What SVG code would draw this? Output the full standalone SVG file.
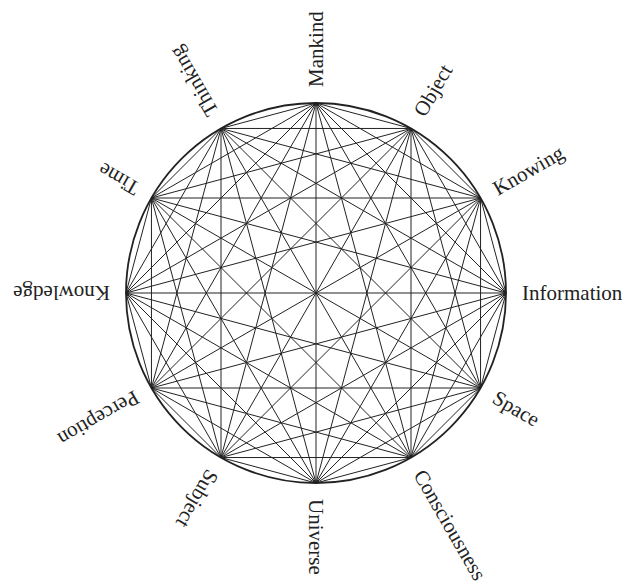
<svg xmlns="http://www.w3.org/2000/svg" width="623" height="584" viewBox="0 0 623 584">
<style>
.c line{stroke:#222;stroke-width:1;fill:none}
.ring{stroke:#222;stroke-width:1.8;fill:none}
.lbl{font-family:"Liberation Serif","Times New Roman",serif;font-size:21px;fill:#222;dominant-baseline:central}
</style>
<rect width="623" height="584" fill="#fff"/>
<circle class="ring" cx="316" cy="293" r="190"/>
<g id="connectors" class="c">
<line x1="506" y1="293" x2="480.55" y2="388"/>
<line x1="506" y1="293" x2="411" y2="457.54"/>
<line x1="506" y1="293" x2="316" y2="483"/>
<line x1="506" y1="293" x2="221" y2="457.54"/>
<line x1="506" y1="293" x2="151.45" y2="388"/>
<line x1="506" y1="293" x2="126" y2="293"/>
<line x1="506" y1="293" x2="151.45" y2="198"/>
<line x1="506" y1="293" x2="221" y2="128.46"/>
<line x1="506" y1="293" x2="316" y2="103"/>
<line x1="506" y1="293" x2="411" y2="128.46"/>
<line x1="506" y1="293" x2="480.55" y2="198"/>
<line x1="480.55" y1="388" x2="411" y2="457.54"/>
<line x1="480.55" y1="388" x2="316" y2="483"/>
<line x1="480.55" y1="388" x2="221" y2="457.54"/>
<line x1="480.55" y1="388" x2="151.45" y2="388"/>
<line x1="480.55" y1="388" x2="126" y2="293"/>
<line x1="480.55" y1="388" x2="151.45" y2="198"/>
<line x1="480.55" y1="388" x2="221" y2="128.46"/>
<line x1="480.55" y1="388" x2="316" y2="103"/>
<line x1="480.55" y1="388" x2="411" y2="128.46"/>
<line x1="480.55" y1="388" x2="480.55" y2="198"/>
<line x1="411" y1="457.54" x2="316" y2="483"/>
<line x1="411" y1="457.54" x2="221" y2="457.54"/>
<line x1="411" y1="457.54" x2="151.45" y2="388"/>
<line x1="411" y1="457.54" x2="126" y2="293"/>
<line x1="411" y1="457.54" x2="151.45" y2="198"/>
<line x1="411" y1="457.54" x2="221" y2="128.46"/>
<line x1="411" y1="457.54" x2="316" y2="103"/>
<line x1="411" y1="457.54" x2="411" y2="128.46"/>
<line x1="411" y1="457.54" x2="480.55" y2="198"/>
<line x1="316" y1="483" x2="221" y2="457.54"/>
<line x1="316" y1="483" x2="151.45" y2="388"/>
<line x1="316" y1="483" x2="126" y2="293"/>
<line x1="316" y1="483" x2="151.45" y2="198"/>
<line x1="316" y1="483" x2="221" y2="128.46"/>
<line x1="316" y1="483" x2="316" y2="103"/>
<line x1="316" y1="483" x2="411" y2="128.46"/>
<line x1="316" y1="483" x2="480.55" y2="198"/>
<line x1="221" y1="457.54" x2="151.45" y2="388"/>
<line x1="221" y1="457.54" x2="126" y2="293"/>
<line x1="221" y1="457.54" x2="151.45" y2="198"/>
<line x1="221" y1="457.54" x2="221" y2="128.46"/>
<line x1="221" y1="457.54" x2="316" y2="103"/>
<line x1="221" y1="457.54" x2="411" y2="128.46"/>
<line x1="221" y1="457.54" x2="480.55" y2="198"/>
<line x1="151.45" y1="388" x2="126" y2="293"/>
<line x1="151.45" y1="388" x2="151.45" y2="198"/>
<line x1="151.45" y1="388" x2="221" y2="128.46"/>
<line x1="151.45" y1="388" x2="316" y2="103"/>
<line x1="151.45" y1="388" x2="411" y2="128.46"/>
<line x1="151.45" y1="388" x2="480.55" y2="198"/>
<line x1="126" y1="293" x2="151.45" y2="198"/>
<line x1="126" y1="293" x2="221" y2="128.46"/>
<line x1="126" y1="293" x2="316" y2="103"/>
<line x1="126" y1="293" x2="411" y2="128.46"/>
<line x1="126" y1="293" x2="480.55" y2="198"/>
<line x1="151.45" y1="198" x2="221" y2="128.46"/>
<line x1="151.45" y1="198" x2="316" y2="103"/>
<line x1="151.45" y1="198" x2="411" y2="128.46"/>
<line x1="151.45" y1="198" x2="480.55" y2="198"/>
<line x1="221" y1="128.46" x2="316" y2="103"/>
<line x1="221" y1="128.46" x2="411" y2="128.46"/>
<line x1="221" y1="128.46" x2="480.55" y2="198"/>
<line x1="316" y1="103" x2="411" y2="128.46"/>
<line x1="316" y1="103" x2="480.55" y2="198"/>
<line x1="411" y1="128.46" x2="480.55" y2="198"/>
</g>
<g id="information"><text class="lbl" x="522" y="293">Information</text></g>
<g id="space" transform="rotate(30 316 293)"><text class="lbl" x="522" y="293">Space</text></g>
<g id="consciousness" transform="rotate(60 316 293)"><text class="lbl" x="522" y="293">Consciousness</text></g>
<g id="universe" transform="rotate(90 316 293)"><text class="lbl" x="522" y="293">Universe</text></g>
<g id="subject" transform="rotate(120 316 293)"><text class="lbl" x="522" y="293">Subject</text></g>
<g id="perception" transform="rotate(150 316 293)"><text class="lbl" x="522" y="293">Perception</text></g>
<g id="knowledge" transform="rotate(180 316 293)"><text class="lbl" x="522" y="293">Knowledge</text></g>
<g id="time" transform="rotate(210 316 293)"><text class="lbl" x="522" y="293">Time</text></g>
<g id="thinking" transform="rotate(240 316 293)"><text class="lbl" x="522" y="293">Thinking</text></g>
<g id="mankind" transform="rotate(270 316 293)"><text class="lbl" x="522" y="293">Mankind</text></g>
<g id="object" transform="rotate(300 316 293)"><text class="lbl" x="522" y="293">Object</text></g>
<g id="knowing" transform="rotate(330 316 293)"><text class="lbl" x="522" y="293">Knowing</text></g>
</svg>
